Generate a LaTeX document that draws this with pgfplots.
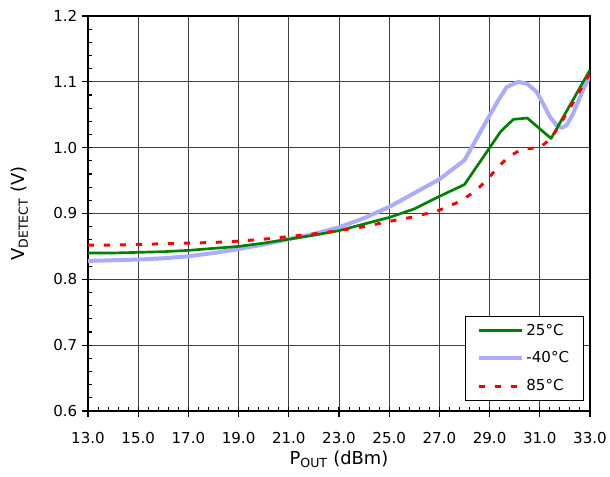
\documentclass[border=0pt]{standalone}
\usepackage{fontspec}
\setmainfont{DejaVu Sans}
\usepackage{pgfplots}
\pgfplotsset{compat=1.18}

\definecolor{g25}{RGB}{0,128,0}
\definecolor{b40}{RGB}{172,172,252}
\definecolor{r85}{RGB}{255,0,0}

\begin{document}
\begin{tikzpicture}
\begin{axis}[
  scale only axis,
  width=376.5pt, height=296.25pt,
  xmin=13, xmax=33, ymin=0.6, ymax=1.2,
  xtick={13,15,17,19,21,23,25,27,29,31,33},
  ytick={0.6,0.7,0.8,0.9,1.0,1.1,1.2},
  tick pos=left,
  /pgf/number format/assume math mode=true,
  xticklabel style={yshift=-8pt, /pgf/number format/fixed, /pgf/number format/fixed zerofill, /pgf/number format/precision=1},
  yticklabel style={/pgf/number format/fixed, /pgf/number format/fixed zerofill, /pgf/number format/precision=1},
  tick label style={font=\fontsize{11.3pt}{13pt}\selectfont},
  grid=major,
  major grid style={black!75, line width=0.6pt},
  axis line style={black, line width=1pt},
  tick align=outside,
  major tick length=4.5pt,
  tick style={black, line width=0.8pt},
  extra x ticks={13.4,13.8,...,32.7},
  extra x tick labels={},
  extra x tick style={tick align=inside, major tick length=3pt, grid=none, xticklabel={}},
  extra y ticks={0.62,0.64,...,1.19},
  extra y tick labels={},
  extra y tick style={tick align=inside, major tick length=3pt, grid=none, yticklabel={}},
  xlabel={P\textsubscript{OUT} (dBm)},
  ylabel={V\textsubscript{DETECT} (V)},
  label style={font=\fontsize{13.4pt}{16pt}\selectfont},
  xlabel style={at={(axis description cs:0.5,0)}, anchor=north, yshift=-26.6pt},
  ylabel style={at={(axis description cs:0,0.5)}, anchor=base, yshift=47.25pt},
  legend style={at={(1,0)}, anchor=south east, xshift=-4.5pt, yshift=7.5pt,
    draw=black, fill=white,
    font=\fontsize{11.3pt}{13pt}\selectfont,
    row sep=7pt, inner xsep=9pt, inner ysep=4pt},
  legend cell align=left,
  legend image code/.code={\draw[#1] (0pt,0pt) -- (32pt,0pt);},
]
% -40 C
\addplot[b40, line width=3pt, line join=round, forget plot] coordinates {
(13,0.828)(14,0.829)(15,0.830)(16,0.832)(17,0.835)(18,0.840)(19,0.846)(20,0.853)
(21,0.861)(22,0.869)(23,0.879)(24,0.893)(25,0.910)(26,0.931)(27,0.952)(28,0.981)
(28.5,1.015)(29,1.049)(29.35,1.072)(29.68,1.092)(30.14,1.100)(30.5,1.097)(30.87,1.085)
(31.13,1.067)(31.4,1.047)(31.67,1.034)(31.87,1.030)(32.07,1.034)(32.33,1.052)
(32.67,1.083)(33,1.110)
};
% 25 C
\addplot[g25, line width=2pt, line join=round, forget plot] coordinates {
(13,0.840)(14,0.840)(15,0.841)(16,0.842)(17,0.844)(18,0.847)(19,0.850)(20,0.855)
(21,0.861)(22,0.867)(23,0.874)(24,0.884)(25,0.894)(26,0.907)(27,0.926)(28,0.944)
(29.45,1.025)(29.95,1.043)(30.5,1.045)(31.45,1.014)(33,1.118)
};
% 85 C
\addplot[r85, line width=2.2pt, dash pattern=on 4.5pt off 7.5pt, forget plot] coordinates {
(13,0.852)(14,0.852)(15,0.853)(16,0.854)(17,0.855)(18,0.856)(19,0.858)(20,0.861)
(21,0.865)(22,0.869)(23,0.874)(24,0.880)(25,0.888)(26,0.895)(27,0.905)(27.8,0.918)
(28.4,0.933)(28.9,0.951)(29.3,0.969)(29.75,0.986)(30.3,0.998)(31,1.000)(31.45,1.014)
(32.2,1.060)(33,1.113)
};
\addlegendimage{g25, line width=2pt}
\addlegendentry{25°C}
\addlegendimage{b40, line width=3pt}
\addlegendentry{-40°C}
\addlegendimage{r85, line width=2.2pt, dash pattern=on 4.5pt off 7.5pt}
\addlegendentry{85°C}
\end{axis}
\coordinate (bl) at ([shift={(-66pt,-49.5pt)}]current axis.south west);
\coordinate (tr) at ([shift={(15pt,12pt)}]current axis.north east);
\pgfresetboundingbox
\path (bl) rectangle (tr);
\end{tikzpicture}
\end{document}
